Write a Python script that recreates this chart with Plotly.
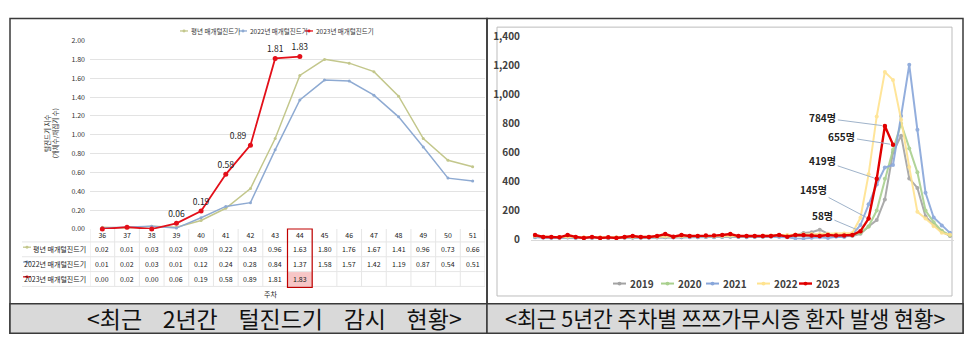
import plotly.graph_objects as go

W, H = 971, 347
FONT = "Noto Sans CJK KR"

# ---------------- Left chart data (털진드기 지수) ----------------
weeks_left = ["36", "37", "38", "39", "40", "41", "42", "43", "44", "45", "46", "47", "48", "49", "50", "51"]
avg_vals = [0.02, 0.01, 0.03, 0.02, 0.09, 0.22, 0.43, 0.96, 1.63, 1.80, 1.76, 1.67, 1.41, 0.96, 0.73, 0.66]
y2022_vals = [0.01, 0.02, 0.03, 0.01, 0.12, 0.24, 0.28, 0.84, 1.37, 1.58, 1.57, 1.42, 1.19, 0.87, 0.54, 0.51]
y2023_vals = [0.00, 0.02, 0.00, 0.06, 0.19, 0.58, 0.89, 1.81, 1.83]
left_names = ["평년 매개털진드기", "2022년 매개털진드기", "2023년 매개털진드기"]

# ---------------- Right chart data (쯔쯔가무시증 주별 환자) ----------------
weeks_right = list(range(1, 53))
p2019 = [20, 16, 14, 15, 18, 14, 12, 14, 13, 12, 14, 15, 16, 14, 15, 17, 18, 16, 17, 18,
         17, 19, 18, 20, 22, 19, 18, 20, 21, 22, 24, 26, 30, 45, 50, 68, 40, 25, 22, 25,
         40, 90, 134, 277, 600, 717, 422, 356, 160, 100, 55, 25]
p2020 = [18, 15, 14, 13, 15, 12, 11, 12, 12, 11, 12, 13, 14, 13, 14, 15, 16, 15, 16, 17,
         16, 18, 17, 19, 20, 18, 17, 19, 20, 21, 22, 23, 25, 26, 27, 28, 27, 28, 30, 32,
         45, 90, 200, 420, 620, 800, 629, 464, 200, 120, 60, 30]
p2021 = [15, 12, 10, 12, 14, 10, 9, 11, 10, 9, 10, 12, 13, 12, 13, 14, 15, 14, 15, 16,
         15, 17, 16, 18, 19, 17, 16, 18, 19, 20, 18, 15, 8, 5, 12, 15, 10, 20, 18, 35,
         100, 244, 380, 497, 515, 853, 1206, 757, 323, 152, 97, 46]
p2022 = [25, 20, 18, 17, 20, 16, 15, 16, 15, 14, 15, 16, 18, 17, 18, 19, 21, 20, 22, 23,
         22, 24, 23, 25, 27, 24, 23, 25, 27, 28, 30, 32, 34, 36, 38, 38, 40, 40, 42, 45,
         150, 450, 850, 1157, 1102, 827, 500, 191, 145, 92, 46, 33]
p2023 = [31, 18, 18, 15, 31, 18, 11, 18, 11, 15, 11, 18, 24, 18, 18, 24, 38, 20, 31, 24,
         24, 27, 27, 31, 38, 24, 24, 24, 24, 24, 31, 20, 31, 31, 27, 24, 31, 27, 27, 31,
         58, 145, 419, 784, 655]
right_names = ["2019", "2020", "2021", "2022", "2023"]
callout_weeks = [41, 42, 43, 44, 45]
callout_texts = ["58명", "145명", "419명", "784명", "655명"]

left_caption = "<최근    2년간    털진드기    감시    현황>"
right_caption = "<최근 5년간 주차별 쯔쯔가무시증 환자 발생 현황>"

# ---------------- helpers ----------------
def X(px):
    return px / W

def Y(py):
    return 1 - py / H

def esc(s):
    return s.replace("<", "&lt;").replace(">", "&gt;").replace(" ", "\u00a0")

C_AVG = "#c3c78c"
C_22L = "#8eaad2"
C_23L = "#e3101a"
RIGHT_COLORS = ["#a3a3a3", "#a9d08e", "#88a6da", "#ffe38f", "#e00000"]

fig = go.Figure()

idx_left = list(range(len(weeks_left)))

# ---- left traces
fig.add_trace(go.Scatter(x=idx_left, y=avg_vals, mode="lines+markers", name=left_names[0],
                         line=dict(color=C_AVG, width=1.5), marker=dict(size=3, color=C_AVG),
                         xaxis="x", yaxis="y", cliponaxis=False))
fig.add_trace(go.Scatter(x=idx_left, y=y2022_vals, mode="lines+markers", name=left_names[1],
                         line=dict(color=C_22L, width=1.5), marker=dict(size=3, color=C_22L),
                         xaxis="x", yaxis="y", cliponaxis=False))
lbl23 = ["" if v < 0.05 else f"{v:.2f}" for v in y2023_vals]
pos23 = ["top center"] * len(y2023_vals)
pos23[6] = "top left"
fig.add_trace(go.Scatter(x=idx_left[:len(y2023_vals)], y=y2023_vals, mode="lines+markers+text",
                         name=left_names[2], text=lbl23, textposition=pos23,
                         textfont=dict(family=FONT, size=8.5, color="#222222"),
                         line=dict(color=C_23L, width=1.8), marker=dict(size=5, color=C_23L),
                         xaxis="x", yaxis="y", cliponaxis=False))

# ---- right traces
for name, vals, col in zip(right_names, [p2019, p2020, p2021, p2022, p2023], RIGHT_COLORS):
    is23 = name == "2023"
    fig.add_trace(go.Scatter(x=weeks_right[:len(vals)], y=vals, mode="lines+markers", name=name,
                             line=dict(color=col, width=2.4 if is23 else 2),
                             marker=dict(size=4.5 if is23 else 4, color=col),
                             opacity=1 if is23 else 0.9,
                             xaxis="x2", yaxis="y2", cliponaxis=False))

shapes = []
annotations = []

# ---- frames
shapes.append(dict(type="rect", xref="paper", yref="paper", x0=X(10), x1=X(487), y0=Y(340), y1=Y(11),
                   line=dict(color="#3a3a3a", width=1.5), layer="below"))
shapes.append(dict(type="rect", xref="paper", yref="paper", x0=X(487), x1=X(963), y0=Y(340), y1=Y(11),
                   line=dict(color="#3a3a3a", width=1.5), layer="below"))
shapes.append(dict(type="rect", xref="paper", yref="paper", x0=X(10), x1=X(487), y0=Y(340), y1=Y(309),
                   fillcolor="#d9d9d9", line=dict(color="#3a3a3a", width=1.5)))
shapes.append(dict(type="rect", xref="paper", yref="paper", x0=X(487), x1=X(963), y0=Y(340), y1=Y(309),
                   fillcolor="#d9d9d9", line=dict(color="#3a3a3a", width=1.5)))
shapes.append(dict(type="rect", xref="paper", yref="paper", x0=X(497), x1=X(952), y0=Y(301), y1=Y(20),
                   line=dict(color="#bdbdbd", width=1), layer="below"))

# ---- table grid (left)
row_y = [252, 267.5, 283]
for yy in [244.5, 260, 275.5, 291]:
    shapes.append(dict(type="line", xref="paper", yref="paper", x0=X(22), x1=X(485), y0=Y(yy), y1=Y(yy),
                       line=dict(color="#e6e6e6", width=1), layer="below"))
for i in range(len(weeks_left) + 1):
    shapes.append(dict(type="line", xref="x", yref="paper", x0=i - 0.5, x1=i - 0.5, y0=Y(231), y1=Y(291),
                       line=dict(color="#e6e6e6", width=1), layer="below"))
# highlighted week 44
hi = weeks_left.index("44")
shapes.append(dict(type="rect", xref="x", yref="paper", x0=hi - 0.5, x1=hi + 0.5, y0=Y(291), y1=Y(276),
                   fillcolor="#f7c6c6", line=dict(width=0), layer="below"))
shapes.append(dict(type="rect", xref="x", yref="paper", x0=hi - 0.5, x1=hi + 0.5, y0=Y(292), y1=Y(231),
                   line=dict(color="#c00000", width=1.2)))

# table row labels and values
row_cols = [C_AVG, C_22L, C_23L]
for r, (nm, vals, col) in enumerate(zip(left_names, [avg_vals, y2022_vals, y2023_vals], row_cols)):
    yy = row_y[r]
    shapes.append(dict(type="line", xref="paper", yref="paper", x0=X(23), x1=X(31), y0=Y(yy - 2), y1=Y(yy - 2),
                       line=dict(color=col, width=1.3)))
    shapes.append(dict(type="circle", xref="paper", yref="paper", x0=X(25.5), x1=X(28.5), y0=Y(yy - 0.5), y1=Y(yy - 3.5),
                       fillcolor=col, line=dict(width=0)))
    annotations.append(dict(x=X(88), y=Y(yy), xref="paper", yref="paper", text=esc(nm), showarrow=False,
                            xanchor="right", yanchor="middle", font=dict(family=FONT, size=7, color="#222222")))
    for i, v in enumerate(vals):
        annotations.append(dict(x=i, y=Y(yy), xref="x", yref="paper", text=f"{v:.2f}",
                                showarrow=False, xanchor="center", yanchor="middle",
                                font=dict(family=FONT, size=7, color="#222222")))

annotations.append(dict(x=X(270), y=Y(299), xref="paper", yref="paper", text="주차", showarrow=False,
                        xanchor="center", yanchor="middle",
                        font=dict(family=FONT, size=7, color="#222222")))
annotations.append(dict(x=X(51), y=Y(131), xref="paper", yref="paper",
                        text="털진드기 지수<br>(개체수/채집기 수)", showarrow=False, textangle=-90,
                        xanchor="center", yanchor="middle",
                        font=dict(family=FONT, size=6.5, color="#333333")))

# ---- left legend (manual)
left_leg = [(180, C_AVG), (239, C_22L), (305, C_23L)]
for (lx, col), nm in zip(left_leg, left_names):
    shapes.append(dict(type="line", xref="paper", yref="paper", x0=X(lx), x1=X(lx + 8), y0=Y(24), y1=Y(24),
                       line=dict(color=col, width=1.3)))
    shapes.append(dict(type="circle", xref="paper", yref="paper", x0=X(lx + 2.5), x1=X(lx + 5.5), y0=Y(25.5), y1=Y(22.5),
                       fillcolor=col, line=dict(width=0)))
    annotations.append(dict(x=X(lx + 9), y=Y(24), xref="paper", yref="paper", text=esc(nm), showarrow=False,
                            xanchor="left", yanchor="middle", font=dict(family=FONT, size=6.5, color="#333333")))

# ---- right legend (manual)
right_leg = [613, 661, 706, 757, 799]
for lx, nm, col in zip(right_leg, right_names, RIGHT_COLORS):
    shapes.append(dict(type="line", xref="paper", yref="paper", x0=X(lx), x1=X(lx + 13), y0=Y(288), y1=Y(288),
                       line=dict(color=col, width=2 if nm != "2023" else 2.4)))
    shapes.append(dict(type="circle", xref="paper", yref="paper", x0=X(lx + 4.5), x1=X(lx + 8.5), y0=Y(290), y1=Y(286),
                       fillcolor=col, line=dict(width=0)))
    annotations.append(dict(x=X(lx + 15), y=Y(288), xref="paper", yref="paper", text=f"<b>{nm}</b>", showarrow=False,
                            xanchor="left", yanchor="middle", font=dict(family=FONT, size=10, color="#404040")))

# ---- right callouts
call_offsets = [(-38, -16), (-55, -29), (-54, -18), (-62, -8), (-51, -8)]
for wk, txt, (ax, ay) in zip(callout_weeks, callout_texts, call_offsets):
    annotations.append(dict(x=wk, y=p2023[wk - 1], xref="x2", yref="y2", text=f"<b>{txt}</b>",
                            showarrow=True, arrowhead=0, arrowwidth=1, arrowcolor="#9fb3ca",
                            ax=ax, ay=ay, axref="pixel", ayref="pixel", standoff=3,
                            font=dict(family=FONT, size=10, color="#222222")))

# ---- captions
annotations.append(dict(x=X(274), y=Y(324), xref="paper", yref="paper",
                        text=esc(left_caption), showarrow=False, xanchor="center", yanchor="middle",
                        font=dict(family=FONT, size=23, color="#111111")))
annotations.append(dict(x=X(725), y=Y(324), xref="paper", yref="paper",
                        text=esc(right_caption), showarrow=False, xanchor="center", yanchor="middle",
                        font=dict(family=FONT, size=21.5, color="#111111")))

fig.update_layout(
    width=W, height=H, margin=dict(l=0, r=0, t=0, b=0),
    paper_bgcolor="white", plot_bgcolor="white", showlegend=False,
    font=dict(family=FONT),
    xaxis=dict(domain=[X(90), X(485)], range=[-0.5, len(weeks_left) - 0.5], anchor="y",
               tickmode="array", tickvals=idx_left, ticktext=weeks_left,
               showgrid=False, zeroline=False, showline=False, ticks="",
               tickfont=dict(family=FONT, size=7, color="#222222"), ticklabelstandoff=1),
    yaxis=dict(domain=[Y(231), Y(34)], range=[0, 2.0], dtick=0.2, tickformat=".2f", anchor="x",
               showgrid=True, gridcolor="#e3e3e3", gridwidth=1, zeroline=False, showline=False,
               tickfont=dict(family=FONT, size=7, color="#333333"), ticklabelstandoff=4),
    xaxis2=dict(domain=[X(531), X(954)], range=[0.5, 52.5], anchor="y2", showticklabels=False,
                showgrid=False, zeroline=False, showline=True, linecolor="#d9d9d9", linewidth=1, ticks=""),
    yaxis2=dict(domain=[Y(242), Y(30)], range=[0, 1400], dtick=200, tickformat=",", anchor="x2",
                showgrid=False, zeroline=False, showline=False, ticks="",
                tickfont=dict(family=FONT, size=10, color="#404040", weight="bold"), ticklabelstandoff=10),
    shapes=shapes, annotations=annotations,
)

fig.write_html("out.html")
